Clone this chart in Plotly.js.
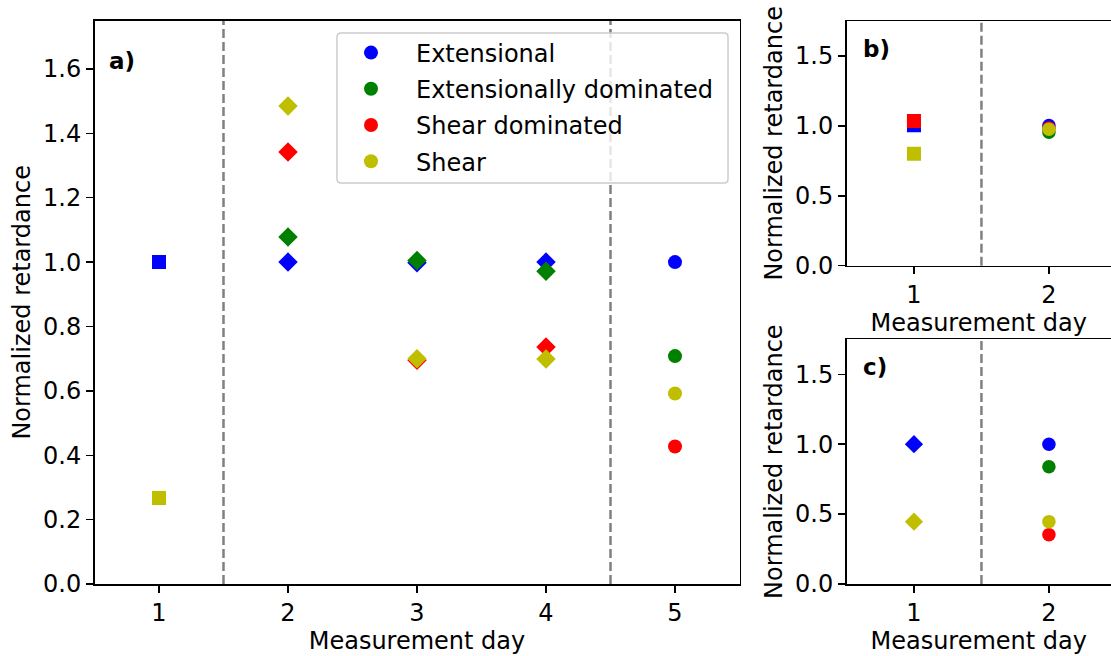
<!DOCTYPE html>
<html>
<head>
<meta charset="utf-8">
<script src="https://cdn.plot.ly/plotly-3.0.1.min.js"></script>
<style>html,body{margin:0;padding:0;background:#fff}#chart{width:1111px;height:656px}</style>
</head>
<body>
<div id="chart"></div>
<script>
// ---- Data ----
const seriesNames = ["Extensional", "Extensionally dominated", "Shear dominated", "Shear"];
const seriesColors = ["#0000ff", "#008000", "#ff0000", "#bfbf00"];

// Panel a) days 1..5
const daysA = [1, 2, 3, 4, 5];
const symbolsA = ["square", "diamond", "diamond", "diamond", "circle"];
const extA      = [1.0,   1.0,   0.998, 1.0,   1.0];
const extDomA   = [null,  1.078, 1.005, 0.972, 0.708];
const shearDomA = [null,  1.342, 0.695, 0.736, 0.427];
const shearA    = [0.267, 1.485, 0.700, 0.699, 0.592];

// Panel b) days 1..2
const daysB = [1, 2];
const symbolsB = ["square", "circle"];
const extB      = [1.004, 1.003];
const extDomB   = [null,  0.955];
const shearDomB = [1.035, 0.985];
const shearB    = [0.801, 0.976];

// Panel c) days 1..2
const daysC = [1, 2];
const symbolsC = ["diamond", "circle"];
const extC      = [1.0,   1.0];
const extDomC   = [null,  0.839];
const shearDomC = [null,  0.353];
const shearC    = [0.446, 0.446];

const ticksA = [0, 0.2, 0.4, 0.6, 0.8, 1.0, 1.2, 1.4, 1.6];
const ticksBC = [0, 0.5, 1.0, 1.5];
const xTitle = "Measurement day";
const yTitle = "Normalized retardance";

// ---- Build traces ----
const FONT = "DejaVu Sans, sans-serif";
function sizesFor(symbols, sq, dm, ci) {
  return symbols.map(s => s === "square" ? sq : (s === "diamond" ? dm : ci));
}
const traces = [];
function addPanel(days, symbols, seriesVals, xa, ya, sz) {
  seriesVals.forEach((vals, i) => {
    traces.push({
      type: "scatter", mode: "markers",
      x: days, y: vals, xaxis: xa, yaxis: ya,
      showlegend: false, hoverinfo: "x+y",
      marker: {color: seriesColors[i], symbol: symbols, size: sz, opacity: 1, line: {width: 0}}
    });
  });
}
addPanel(daysA, symbolsA, [extA, extDomA, shearDomA, shearA], "x", "y", sizesFor(symbolsA, 14, 15, 14));
addPanel(daysB, symbolsB, [extB, extDomB, shearDomB, shearB], "x2", "y2", sizesFor(symbolsB, 14, 14, 13.5));
addPanel(daysC, symbolsC, [extC, extDomC, shearDomC, shearC], "x3", "y3", sizesFor(symbolsC, 14, 14, 13.5));
// legend entries
seriesNames.forEach((n, i) => {
  traces.push({
    type: "scatter", mode: "markers", x: [null], y: [null], xaxis: "x", yaxis: "y",
    name: n, legendgroup: "g" + i, showlegend: true,
    marker: {color: seriesColors[i], symbol: "circle", size: 14, opacity: 1, line: {width: 0}}
  });
});

const W = 1111, H = 656;
function xd(a, b) { return [a / W, b / W]; }
function yd(top, bottom) { return [1 - bottom / H, 1 - top / H]; }

const axCommon = {
  showline: true, linecolor: "#000", linewidth: 1.5, mirror: true,
  ticks: "outside", ticklen: 7, tickwidth: 1.5, tickcolor: "#000",
  showgrid: false, zeroline: false,
  tickfont: {family: FONT, size: 24, color: "#000"}
};
function xaxis(domain, range, anchor, standoff) {
  return Object.assign({}, axCommon, {
    domain: domain, range: range, anchor: anchor,
    tickvals: [1, 2, 3, 4, 5], ticktext: ["1", "2", "3", "4", "5"],
    title: {text: xTitle, font: {family: FONT, size: 24, color: "#000"}, standoff: standoff}
  });
}
function yaxis(domain, ticks, anchor, standoff) {
  return Object.assign({}, axCommon, {
    domain: domain, range: [0, 1.75], anchor: anchor,
    tickvals: ticks, ticktext: ticks.map(v => v.toFixed(1)),
    title: {text: yTitle, font: {family: FONT, size: 24, color: "#000"}, standoff: standoff}
  });
}

// rounded legend frame (paper pixels)
const bx0 = 337, bx1 = 728, by0 = 33, by1 = 183, rr = 4;
function px(v) { return (v / W).toFixed(5); }
function py(v) { return (1 - v / H).toFixed(5); }
const framePath =
  "M" + px(bx0 + rr) + "," + py(by0) +
  " L" + px(bx1 - rr) + "," + py(by0) +
  " Q" + px(bx1) + "," + py(by0) + " " + px(bx1) + "," + py(by0 + rr) +
  " L" + px(bx1) + "," + py(by1 - rr) +
  " Q" + px(bx1) + "," + py(by1) + " " + px(bx1 - rr) + "," + py(by1) +
  " L" + px(bx0 + rr) + "," + py(by1) +
  " Q" + px(bx0) + "," + py(by1) + " " + px(bx0) + "," + py(by1 - rr) +
  " L" + px(bx0) + "," + py(by0 + rr) +
  " Q" + px(bx0) + "," + py(by0) + " " + px(bx0 + rr) + "," + py(by0) + " Z";

const dash = {color: "#808080", width: 2.5, dash: "9px,4px"};
const layout = {
  width: W, height: H,
  margin: {l: 0, r: 0, t: 0, b: 0},
  paper_bgcolor: "#fff", plot_bgcolor: "#fff",
  font: {family: FONT, size: 24, color: "#000"},
  xaxis: xaxis(xd(94.5, 739.5), [0.5, 5.5], "y", 4),
  yaxis: yaxis(yd(20.7, 584), ticksA, "x", 5),
  xaxis2: xaxis(xd(846.5, 1111), [0.5, 2.46], "y2", 4),
  yaxis2: yaxis(yd(21, 265.7), ticksBC, "x2", 5),
  xaxis3: xaxis(xd(846.5, 1111), [0.5, 2.46], "y3", 4),
  yaxis3: yaxis(yd(339.3, 584), ticksBC, "x3", 5),
  shapes: [
    {type: "line", xref: "x", yref: "y domain", x0: 1.5, x1: 1.5, y0: 0, y1: 1, line: dash, layer: "below"},
    {type: "line", xref: "x", yref: "y domain", x0: 4.5, x1: 4.5, y0: 0, y1: 1, line: dash, layer: "below"},
    {type: "line", xref: "x2", yref: "y2 domain", x0: 1.5, x1: 1.5, y0: 0, y1: 1, line: dash, layer: "below"},
    {type: "line", xref: "x3", yref: "y3 domain", x0: 1.5, x1: 1.5, y0: 0, y1: 1, line: dash, layer: "below"},
    {type: "path", xref: "paper", yref: "paper", path: framePath, layer: "above",
     fillcolor: "rgba(255,255,255,0.8)", line: {color: "#cccccc", width: 1.5}}
  ],
  annotations: [
    {text: "<b>a)</b>", xref: "x domain", yref: "y domain", x: 0.02, y: 0.928, xanchor: "left", yanchor: "middle", showarrow: false, font: {family: FONT, size: 23, color: "#000"}},
    {text: "<b>b)</b>", xref: "x2 domain", yref: "y2 domain", x: 0.055, y: 0.886, xanchor: "left", yanchor: "middle", showarrow: false, font: {family: FONT, size: 23, color: "#000"}},
    {text: "<b>c)</b>", xref: "x3 domain", yref: "y3 domain", x: 0.055, y: 0.886, xanchor: "left", yanchor: "middle", showarrow: false, font: {family: FONT, size: 23, color: "#000"}}
  ],
  legend: {
    x: 326 / W, y: 1 - 30.5 / H, xanchor: "left", yanchor: "top",
    bgcolor: "rgba(0,0,0,0)", borderwidth: 0,
    font: {family: FONT, size: 24, color: "#000"},
    itemwidth: 80, tracegroupgap: 2, traceorder: "grouped"
  },
  showlegend: true
};

Plotly.newPlot("chart", traces, layout, {displayModeBar: false, staticPlot: true});
</script>
</body>
</html>
